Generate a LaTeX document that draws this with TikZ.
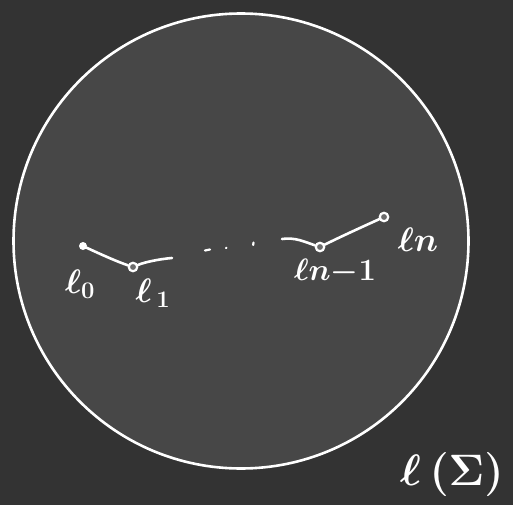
\RequirePackage{fix-cm}
\documentclass[tikz,border=0pt]{standalone}
\begin{document}
\definecolor{bgc}{HTML}{333333}
\definecolor{circfill}{HTML}{474747}
\begin{tikzpicture}[x=1pt,y=-1pt,
  stroke/.style={draw=white,line width=2.6pt,line cap=round},
  fillpt/.style={circle,fill=white,inner sep=0pt,minimum size=8pt},
  ringpt/.style={circle,draw=white,fill=circfill!80!white,line width=2.2pt,inner sep=0pt,minimum size=8.5pt},
  dotmark/.style={draw=white,line width=2.2pt,line cap=round},
  lab/.style={text=white,inner sep=0pt,font=\fontsize{34}{38}\selectfont\boldmath},
  biglab/.style={text=white,inner sep=0pt,font=\fontsize{44}{48}\selectfont\boldmath}]
\fill[bgc] (0,0) rectangle (513,505);
\useasboundingbox (0,0) rectangle (513,505);
\node[circle,draw=white,fill=circfill,line width=2.6pt,minimum size=455pt,inner sep=0pt] (disk) at (241,241) {};
% points
\node[fillpt] (p0) at (83,246) {};
\node[ringpt] (p1) at (133,267) {};
\coordinate (e1) at (172,258);
\coordinate (s2) at (282,239);
\node[ringpt] (pm) at (320,247) {};
\node[ringpt] (pn) at (384,217) {};
% connectors
\draw[stroke] (p0) .. controls (100,254) and (118,262) .. (p1);
\draw[stroke] (p1) .. controls (145,262) and (160,259) .. (e1);
\draw[stroke] (s2) .. controls (295,237) and (305,242) .. (pm);
\draw[stroke] (pm) .. controls (340,237) and (362,227) .. (pn);
% ellipsis marks
\coordinate (d1a) at (205,250.5);
\coordinate (d1b) at (210,249.5);
\coordinate (d2) at (226,248);
\coordinate (d3a) at (253.5,242.5);
\coordinate (d3b) at (253.2,245);
\draw[dotmark] (d1a) -- (d1b);
\draw[dotmark] (d2) -- ++(0.4,-0.3);
\draw[dotmark] (d3a) -- (d3b);
% labels
\node[lab] (l0) at (80,284) {$\ell_{\scriptstyle 0}$};
\node[lab] (l1) at (153,293) {$\ell_{\,1}$};
\node[lab,font=\fontsize{31}{35}\selectfont\boldmath] (lm) at (335,272) {$\ell n{-}1$};
\node[lab] (ln) at (418,240) {$\ell n$};
\node[biglab] (ls) at (452,474) {$\ell\,(\Sigma)$};
\end{tikzpicture}
\end{document}
